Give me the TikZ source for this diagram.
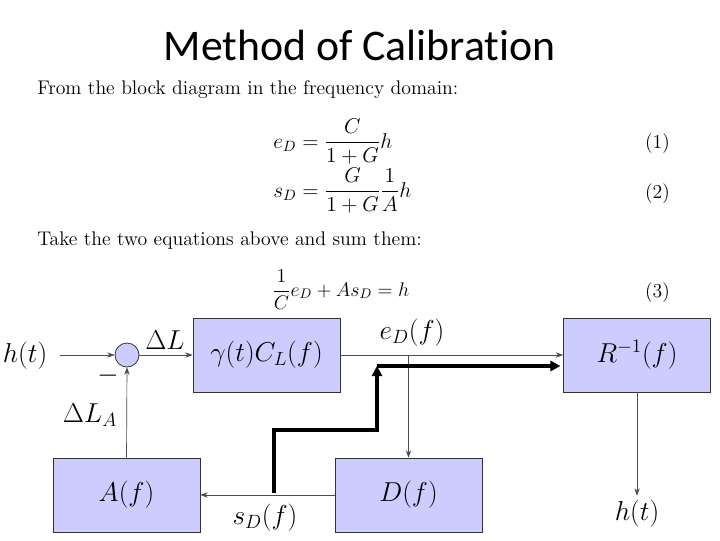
\RequirePackage{fix-cm}
\documentclass[tikz,border=0pt]{standalone}
\usepackage{amsmath}
\usepackage{fontspec}
\newfontfamily\titlefont[Ligatures=NoCommon]{Carlito}
\usetikzlibrary{arrows.meta}
\definecolor{blockfill}{RGB}{204,204,255}
\newcommand\diagfont{\fontsize{20.5}{24}\selectfont}
\newcommand\bodyfont{\fontsize{14.8}{17}\selectfont}
\newcommand\eqfont{\fontsize{16}{19}\selectfont}
\tikzset{
  block/.style={draw=black!80, line width=0.6pt, fill=blockfill, minimum width=110.25pt, minimum height=55.5pt, inner sep=0pt, font=\diagfont},
  sumpt/.style={circle, draw=black!80, line width=0.6pt, fill=blockfill, minimum size=18pt, inner sep=0pt},
  lbl/.style={font=\diagfont},
  body/.style={font=\bodyfont, inner sep=0pt},
  eqn/.style={font=\eqfont, inner sep=0pt},
  sig/.style={draw=black!70, line width=0.5pt, -{Stealth[length=5.5pt,width=4pt]}},
  fat/.style={line width=2.6pt, line join=miter, -{Triangle[length=7.5pt,width=7.5pt]}}
}
\begin{document}
\begin{tikzpicture}[x=0.75pt,y=0.75pt,yscale=-1,xscale=1]
\useasboundingbox (0,0) rectangle (720,540);
\fill[white] (0,0) rectangle (720,540);

% Title
\node[anchor=base] (title) at (359.5,60) {\titlefont\fontsize{32.8}{39}\selectfont Method of Calibration};

% Text Node
\node[body, anchor=base west] (intro) at (37,94) {From the block diagram in the frequency domain:};
\node[eqn, anchor=base west] (eqone) at (273,148) {$\displaystyle e_D=\frac{C}{1+G}h$};
\node[eqn, anchor=base west] (eqtwo) at (273,197) {$\displaystyle s_D=\frac{G}{1+G}\frac{1}{A}h$};
\node[body, anchor=base] (numone) at (657.5,148) {(1)};
\node[body, anchor=base] (numtwo) at (657.5,198) {(2)};
\node[body, anchor=base west] (sumtxt) at (37,245) {Take the two equations above and sum them:};
\node[body, anchor=base west] (eqthree) at (272,296) {$\displaystyle \frac{1}{C}e_D+As_D=h$};
\node[body, anchor=base] (numthree) at (657.5,297) {(3)};

%Shape: blocks
\node[block] (gamma) at (266.5,355) {$\gamma(t)C_L(f)$};
\node[block] (R) at (637,355) {$R^{-1}(f)$};
\node[block] (A) at (126.5,495) {$A(f)$};
\node[block] (D) at (408.5,495) {$D(f)$};
\node[sumpt] (sum) at (127,355) {};

% Text Node
\node[lbl] (hin) at (25,356) {$h(t)$};
\node[lbl] (hout) at (637,514) {$h(t)$};
\node[lbl] (dl) at (165,340) {$\Delta L$};
\node[lbl] (minus) at (108,376) {$-$};
\node[lbl] (dla) at (90,415) {$\Delta L_A$};
\node[lbl] (ed) at (412,333) {$e_D(f)$};
\node[lbl] (sd) at (265,518) {$s_D(f)$};

%Straight Lines
\draw[sig, shorten <=6pt] (hin.east |- sum.west) -- (sum.west);
\draw[sig] (sum.east) -- (gamma.west);
\draw[sig] (gamma.east) -- (R.west);
\coordinate (edtap) at (gamma.east -| D.north);
\draw[sig] (edtap) -- (D.north);
\draw[sig] (D.west) -- (A.east);
\draw[sig] (A.north) -- (sum.south);
\draw[sig] (R.south) -- (hout.north);

%Thick path
\coordinate (sdtap) at (274,493);
\coordinate (fatknee) at (377,430);
\coordinate (fatup) at (377,366);
\draw[fat] (sdtap) |- (fatknee) -- (fatup);
\draw[fat, shorten >=2pt] (fatup) -- (fatup -| R.west);

\end{tikzpicture}
\end{document}
